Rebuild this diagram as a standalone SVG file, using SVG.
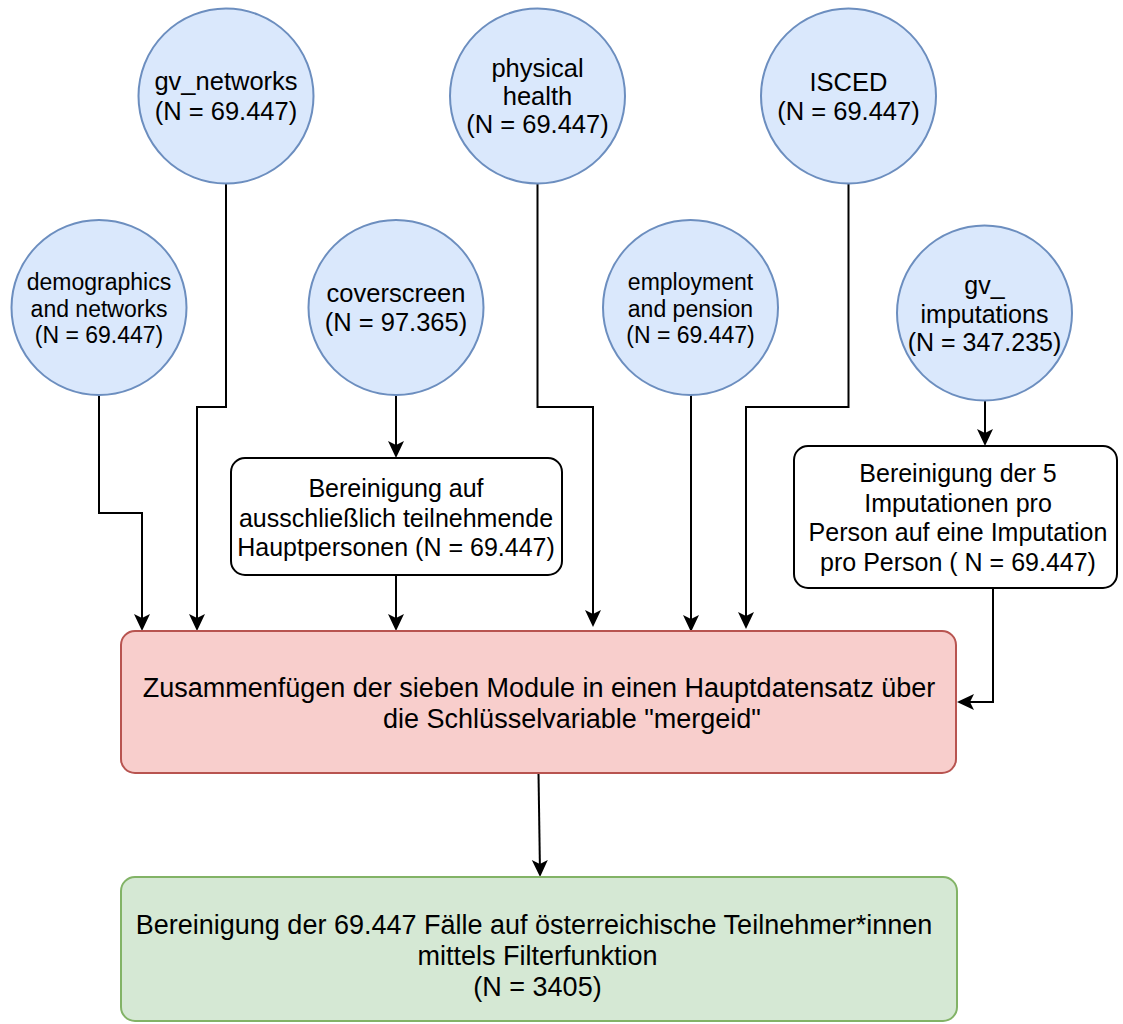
<svg xmlns="http://www.w3.org/2000/svg" width="1123" height="1024" viewBox="0 0 1123 1024">
<style>
  text { font-family: "Liberation Sans", Arial, Helvetica, sans-serif; fill: #000; text-anchor: middle; }
  .c { fill: #dae8fc; stroke: #6c8ebf; stroke-width: 2; }
  .w { fill: #ffffff; stroke: #000000; stroke-width: 2; }
  .r { fill: #f8cecc; stroke: #b85450; stroke-width: 2; }
  .g { fill: #d5e8d4; stroke: #82b366; stroke-width: 2; }
  .t25 { font-size: 25.5px; }
  .t23 { font-size: 23px; }
  .tb { font-size: 25px; }
  .tl { font-size: 27px; }
  .e { fill: none; stroke: #000; stroke-width: 2; marker-end: url(#arr); }
</style>
<defs>
  <marker id="arr" markerUnits="userSpaceOnUse" viewBox="-15 -10 20 20" refX="0" refY="0" markerWidth="20" markerHeight="20" orient="auto">
    <path d="M4,0 L-13,-8 L-9,0 L-13,8 Z" fill="#000"/>
  </marker>
</defs>

<g id="connectors">
  <path class="e" d="M99,395 V513 H142 V627"/>
  <path class="e" d="M226,183.5 V407 H197 V627"/>
  <path class="e" d="M396,395 V454"/>
  <path class="e" d="M396,575 V627"/>
  <path class="e" d="M537.5,183.5 V407 H593 V623"/>
  <path class="e" d="M691,395 V628"/>
  <path class="e" d="M848.5,183.5 V407 H746 V625"/>
  <path class="e" d="M985,400.5 V442"/>
  <path class="e" d="M993,588 V702 H961"/>
  <path class="e" d="M538.5,773 L540,873"/>
</g>

<g id="gv_networks">
  <circle class="c" cx="226" cy="96" r="87.5"/>
  <text class="t25" x="226" y="90">gv_networks</text>
  <text class="t25" x="226" y="120">(N = 69.447)</text>
</g>
<g id="physical_health">
  <circle class="c" cx="537.5" cy="96" r="87.5"/>
  <text class="t25" x="537.5" y="77">physical</text>
  <text class="t25" x="537.5" y="105">health</text>
  <text class="t25" x="537.5" y="133">(N = 69.447)</text>
</g>
<g id="isced">
  <circle class="c" cx="848.5" cy="96" r="87.5"/>
  <text class="t25" x="848.5" y="90.5">ISCED</text>
  <text class="t25" x="848.5" y="120">(N = 69.447)</text>
</g>
<g id="demographics">
  <circle class="c" cx="99" cy="307.5" r="87.5"/>
  <text class="t23" x="99" y="290">demographics</text>
  <text class="t23" x="99" y="316.5">and networks</text>
  <text class="t23" x="99" y="343">(N = 69.447)</text>
</g>
<g id="coverscreen">
  <circle class="c" cx="396" cy="307.5" r="87.5"/>
  <text class="t25" x="396" y="301.5">coverscreen</text>
  <text class="t25" x="396" y="331">(N = 97.365)</text>
</g>
<g id="employment">
  <circle class="c" cx="690.5" cy="307.5" r="87.5"/>
  <text class="t23" x="690.5" y="290">employment</text>
  <text class="t23" x="690.5" y="316.5">and pension</text>
  <text class="t23" x="690.5" y="343">(N = 69.447)</text>
</g>
<g id="gv_imputations">
  <circle class="c" cx="984.5" cy="313" r="87.5"/>
  <text class="tb" x="984.5" y="294">gv_</text>
  <text class="tb" x="984.5" y="322.5">imputations</text>
  <text class="tb" x="984.5" y="351">(N = 347.235)</text>
</g>

<g id="bereinigung_coverscreen">
  <rect class="w" x="231" y="458" width="331" height="117" rx="14" ry="14"/>
  <text class="tb" x="396" y="497">Bereinigung auf</text>
  <text class="tb" x="396" y="526.5">ausschließlich teilnehmende</text>
  <text class="tb" x="396" y="556">Hauptpersonen (N = 69.447)</text>
</g>
<g id="bereinigung_imputations">
  <rect class="w" x="794" y="446" width="323" height="142" rx="14" ry="14"/>
  <text class="tb" x="958" y="482">Bereinigung der 5</text>
  <text class="tb" x="958" y="511.5">Imputationen pro</text>
  <text class="tb" x="958" y="541">Person auf eine Imputation</text>
  <text class="tb" x="958" y="570.5">pro Person ( N = 69.447)</text>
</g>
<g id="zusammenfuegen">
  <rect class="r" x="121" y="631" width="835" height="142" rx="14" ry="14"/>
  <text class="tl" x="539" y="697">Zusammenfügen der sieben Module in einen Hauptdatensatz über</text>
  <text class="tl" x="572" y="728">die Schlüsselvariable "mergeid"</text>
</g>
<g id="filter">
  <rect class="g" x="121" y="877" width="836" height="144" rx="14" ry="14"/>
  <text class="tl" x="534" y="933.5">Bereinigung der 69.447 Fälle auf österreichische Teilnehmer*innen</text>
  <text class="tl" x="537.5" y="964.5">mittels Filterfunktion</text>
  <text class="tl" x="537.5" y="995.5">(N = 3405)</text>
</g>
</svg>
